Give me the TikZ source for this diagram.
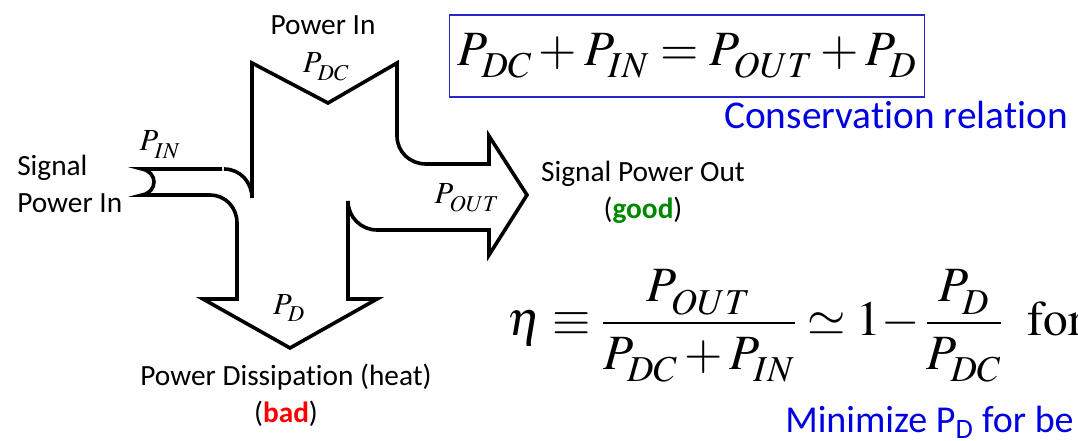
\documentclass[tikz,border=0pt]{standalone}
\usepackage{mathptmx}
\usepackage[no-math]{fontspec}
\setmainfont[Ligatures=NoCommon]{Carlito}
\usepackage{tikz}
\usetikzlibrary{positioning}
\definecolor{relblue}{RGB}{0,0,225}
\definecolor{boxblue}{RGB}{40,40,200}
\definecolor{goodgreen}{RGB}{0,135,0}
\definecolor{badred}{RGB}{255,0,0}
\newcommand{\Pw}[1]{P_{\raisebox{-0.1em}{$\scriptstyle #1$}}}

\begin{document}
\begin{tikzpicture}[
			x=0.75pt, y=-0.75pt,
			flowline/.style={draw=black, line width=2.7pt, line join=miter},
			caption/.style={font=\fontsize{22}{28}\selectfont, align=center, inner sep=0pt},
			plabel/.style={font=\fontsize{23}{28}\selectfont, inner sep=0pt},
			bigmath/.style={font=\fontsize{37}{44}\selectfont, inner sep=0pt},
			note/.style={font=\fontsize{29.5}{35}\selectfont, text=relblue, inner sep=0pt}
			]
			\useasboundingbox (0,0) rectangle (1078,441);
			\clip (0,0) rectangle (1078,441);
			
			% 1. POWER FLOW SHAPE
			\draw[flowline] (252,198) -- (252,63) -- (328,103) -- (397,63) -- (397,136)
			.. controls (397,152) and (410,164) .. (426,164) -- (489,164) -- (489,136)
			-- (527,195) -- (489,255) -- (489,230) -- (377,230)
			.. controls (361,230) and (348,217) .. (348,201) -- (348,299) -- (377,299)
			-- (290,348) -- (203,299) -- (237,299) -- (237,223)
			.. controls (237,207) and (225,195) .. (210,195) -- (142,195)
			.. controls (158,192) and (158,172) .. (142,169) -- (222,169);
			\draw[flowline] (224,169) .. controls (240,169) and (252,182) .. (252,198);
			
			% 2. FLOW LABELS
			\node[plabel] (pin) at (160,145) {$\Pw{IN}$};
			\node[plabel] (pdc) at (326,67) {$\Pw{DC}$};
			\node[plabel] (pout) at (467,198) {$\Pw{OUT}$};
			\node[plabel] (pd) at (289,308) {$\Pw{D}$};
			
			% 3. CAPTIONS
			\node[caption, align=left, anchor=west] (sigin) at (17,184) {Signal\\Power In};
			\node[caption] (dcin) at (323,25) {Power In};
			\node[caption] (sigout) at (643,192) {Signal Power Out\\(\textbf{\textcolor{goodgreen}{good}})};
			\node[caption] (diss) at (286,395) {Power Dissipation (heat)\\(\textbf{\textcolor{badred}{bad}})};
			
			% 4. EQUATIONS
			\node[bigmath, draw=boxblue, line width=1.1pt, minimum width=356pt, minimum height=61.5pt] (cons) at (687,56)
			{$\Pw{DC}+\Pw{IN}=\Pw{OUT}+\Pw{D}$};
			\node[note, anchor=east] (consnote) at (1068,115) {Conservation relation};
			\node[bigmath, anchor=west] (eff) at (507,326)
			{$\displaystyle \eta \equiv \frac{\Pw{OUT}}{\Pw{DC}+\Pw{IN}}\mskip4mu{\simeq}\mskip4mu 1{-}\mskip2mu\frac{\Pw{D}}{\Pw{DC}}\mskip9mu \mathrm{for}$};
			\node[note, font=\fontsize{28.5}{34}\selectfont, anchor=west] (minnote) at (785,422) {Minimize P\textsubscript{D} for be};
		\end{tikzpicture}
\end{document}
